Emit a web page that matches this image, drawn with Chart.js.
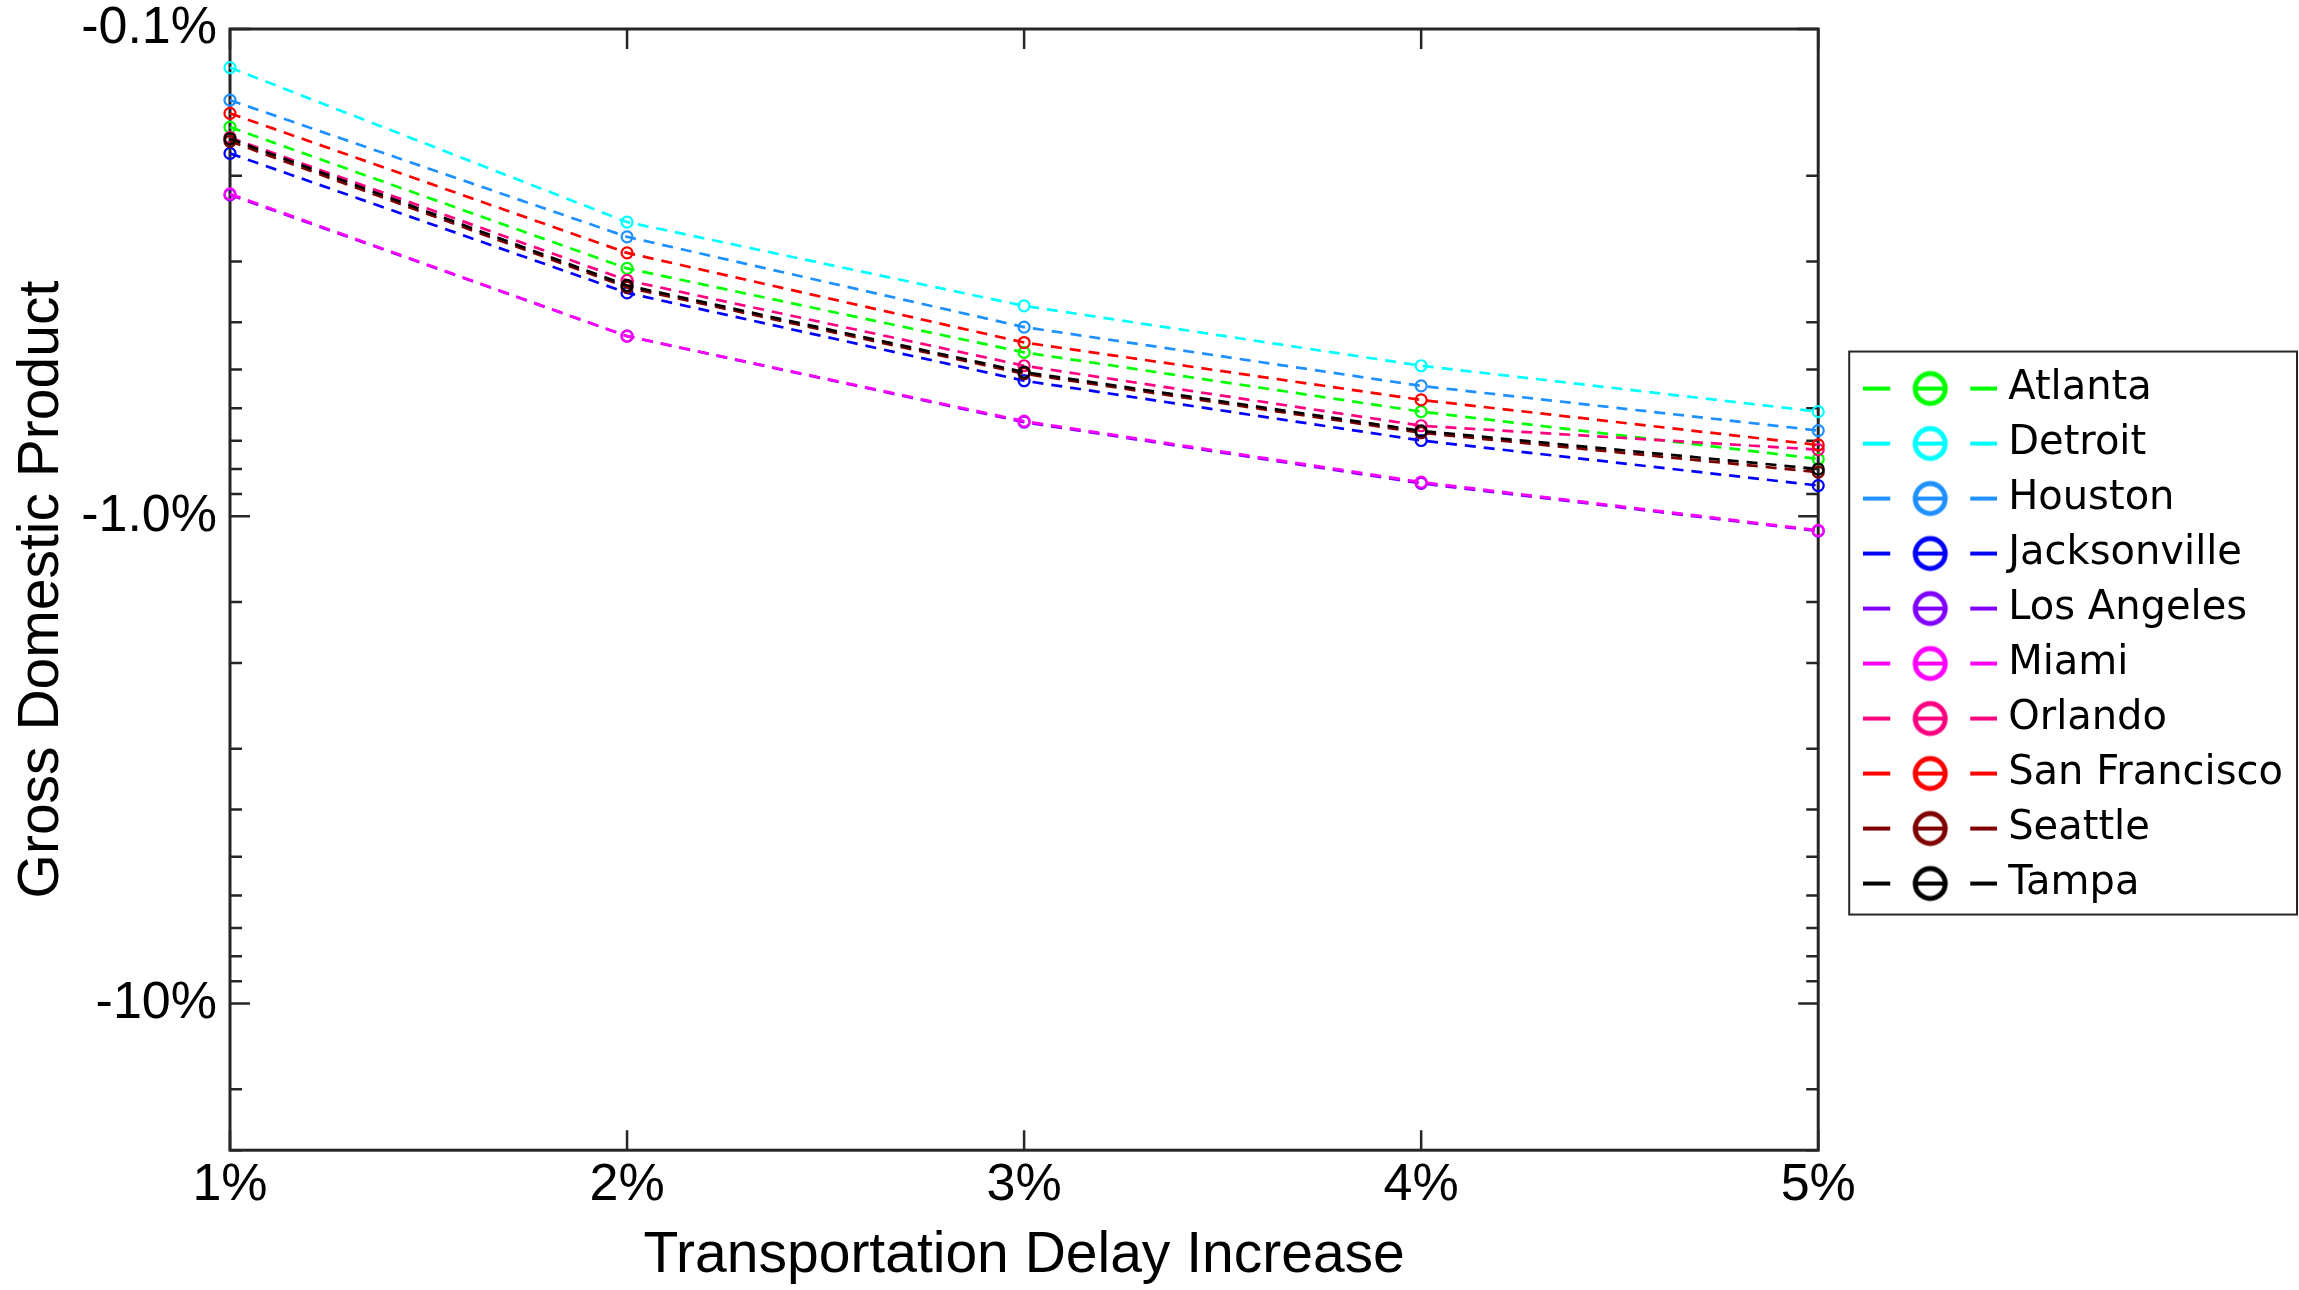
<!DOCTYPE html>
<html>
<head>
<meta charset="utf-8">
<script src="https://cdn.jsdelivr.net/npm/chart.js@4.4.1/dist/chart.umd.min.js"></script>
<style>
  html, body { margin: 0; padding: 0; background: #fff; }
  canvas { display: block; }
</style>
</head>
<body>
<canvas id="gdp-graph" width="2299" height="1290"></canvas>
<script>
// transportation delay increase (x axis)
var delays = ['1%', '2%', '3%', '4%', '5%'];

// GDP change in percent
var atlanta      = [-0.159, -0.310, -0.461, -0.610, -0.763];
var detroit      = [-0.120, -0.249, -0.370, -0.491, -0.610];
var houston      = [-0.140, -0.267, -0.409, -0.540, -0.667];
var jacksonville = [-0.180, -0.348, -0.527, -0.699, -0.865];
var losAngeles   = [-0.219, -0.427, -0.641, -0.856, -1.073];
var miami        = [-0.218, -0.427, -0.638, -0.851, -1.069];
var orlando      = [-0.167, -0.328, -0.491, -0.652, -0.730];
var sanFrancisco = [-0.149, -0.288, -0.440, -0.577, -0.714];
var seattle      = [-0.170, -0.339, -0.510, -0.674, -0.812];
var tampa        = [-0.168, -0.336, -0.506, -0.668, -0.800];

var cities = ['Atlanta', 'Detroit', 'Houston', 'Jacksonville', 'Los Angeles', 'Miami', 'Orlando', 'San Francisco', 'Seattle', 'Tampa'];
var series = [atlanta, detroit, houston, jacksonville, losAngeles, miami, orlando, sanFrancisco, seattle, tampa];
var colors = ['#00ff00', '#00ffff', '#1e90ff', '#0000ff', '#8000ff', '#ff00ff', '#ff0080', '#ff0000', '#800000', '#000000'];

// y axis labels (log axis of the loss)
var yTickValues = [0.1, 1, 10];
var yTickLabels = ['-0.1%', '-1.0%', '-10%'];

function legendIcon(color) {
	var c = document.createElement('canvas');
	c.width = 134;
	c.height = 40;
	var g = c.getContext('2d');
	g.strokeStyle = color;
	g.lineWidth = 4;
	g.beginPath();
	g.moveTo(0, 20); g.lineTo(27, 20);
	g.moveTo(107, 20); g.lineTo(134, 20);
	g.stroke();
	g.lineWidth = 5;
	g.beginPath();
	g.arc(67, 20, 15, 0, 2 * Math.PI);
	g.stroke();
	g.lineWidth = 4;
	g.beginPath();
	g.moveTo(54, 20); g.lineTo(80, 20);
	g.stroke();
	return c;
}
var icons = colors.map(legendIcon);

var datasets = series.map(function(s, i) {
	return {
		label: cities[i],
		data: s.map(function(v) { return -v; }),
		borderColor: colors[i],
		backgroundColor: 'rgba(0,0,0,0)',
		pointBorderColor: colors[i],
		pointBackgroundColor: 'rgba(0,0,0,0)',
		borderWidth: 2.7,
		borderDash: [11, 8],
		pointRadius: 5.5,
		pointBorderWidth: 2.2,
		fill: false,
		tension: 0,
		clip: false,
		order: series.length - i
	};
});

// box around plot, inward ticks, box around legend
var frame = {
	id: 'frame',
	beforeDatasetsDraw: function(chart) {
		var a = chart.chartArea, ctx = chart.ctx;
		var ys = chart.scales.y, xs = chart.scales.x;
		ctx.save();
		ctx.strokeStyle = '#262626';
		ctx.lineWidth = 3;
		ctx.strokeRect(a.left, a.top, a.right - a.left, a.bottom - a.top);
		ctx.lineWidth = 2.5;
		ctx.beginPath();
		ys.ticks.forEach(function(t) {
			var py = ys.getPixelForValue(t.value);
			var len = yTickValues.indexOf(t.value) >= 0 ? 20 : 12;
			ctx.moveTo(a.left, py); ctx.lineTo(a.left + len, py);
			ctx.moveTo(a.right, py); ctx.lineTo(a.right - len, py);
		});
		xs.ticks.forEach(function(t, i) {
			var px = xs.getPixelForTick(i);
			ctx.moveTo(px, a.bottom); ctx.lineTo(px, a.bottom - 20);
			ctx.moveTo(px, a.top); ctx.lineTo(px, a.top + 20);
		});
		ctx.stroke();
		ctx.restore();
	},
	afterDraw: function(chart) {
		var hb = chart.legend.legendHitBoxes;
		if (!hb || !hb.length) return;
		var ctx = chart.ctx;
		var x0 = hb[0].left - 23;
		var x1 = chart.legend.right + 4;
		var y0 = hb[0].top - 17;
		var y1 = hb[hb.length - 1].top + 51;
		ctx.save();
		ctx.strokeStyle = '#262626';
		ctx.lineWidth = 2;
		ctx.strokeRect(x0, y0, x1 - x0, y1 - y0);
		ctx.restore();
	}
};

var gdpctx = document.getElementById('gdp-graph');
var gdpChart = new Chart(gdpctx, {
	type: 'line',
	data: {
		labels: delays,
		datasets: datasets
	},
	options: {
		responsive: false,
		animation: false,
		devicePixelRatio: 1,
		layout: { padding: { top: 29, bottom: 0, left: 0, right: 6 } },
		plugins: {
			tooltip: { enabled: false },
			legend: {
				position: 'right',
				fullSize: false,
				maxWidth: 520,
				// empty title only pushes the entries down to where the figure has them
				title: { display: true, text: '', padding: 0, font: { size: 72, lineHeight: 1.29 } },
				labels: {
					usePointStyle: true,
					pointStyleWidth: 116,
					padding: 15,
					color: '#000',
					font: { family: 'DejaVu Sans', size: 40 },
					sort: function(a, b) { return a.datasetIndex - b.datasetIndex; },
					generateLabels: function(chart) {
						var items = Chart.defaults.plugins.legend.labels.generateLabels(chart);
						items.forEach(function(it) { it.pointStyle = icons[it.datasetIndex]; });
						return items;
					}
				}
			}
		},
		scales: {
			x: {
				type: 'category',
				offset: false,
				grid: { display: false, drawTicks: false },
				border: { display: false },
				ticks: {
					color: '#000',
					padding: 4,
					font: { family: 'Liberation Sans', size: 52 }
				},
				title: {
					display: true,
					text: 'Transportation Delay Increase',
					color: '#000',
					font: { family: 'Liberation Sans', size: 57, lineHeight: 1.2 },
					padding: { top: 1, bottom: 0 }
				}
			},
			y: {
				type: 'logarithmic',
				reverse: true,
				min: 0.1,
				max: 20,
				grid: { display: false, drawTicks: false },
				border: { display: false },
				afterFit: function(scale) { scale.width = 230; },
				ticks: {
					autoSkip: false,
					color: '#000',
					padding: 13,
					font: { family: 'Liberation Sans', size: 52, lineHeight: 0.6 },
					callback: function(value) {
						var k = yTickValues.indexOf(value);
						return k >= 0 ? yTickLabels[k] : '';
					}
				},
				title: {
					display: true,
					text: 'Gross Domestic Product',
					color: '#000',
					font: { family: 'Liberation Sans', size: 57, lineHeight: 1.2 },
					padding: { top: 8, bottom: 0 }
				}
			},
			yR: {
				type: 'linear',
				position: 'right',
				grid: { display: false, drawTicks: false },
				border: { display: false },
				ticks: { display: false },
				afterFit: function(scale) { scale.width = 39; }
			}
		}
	},
	plugins: [frame]
});
</script>
</body>
</html>
